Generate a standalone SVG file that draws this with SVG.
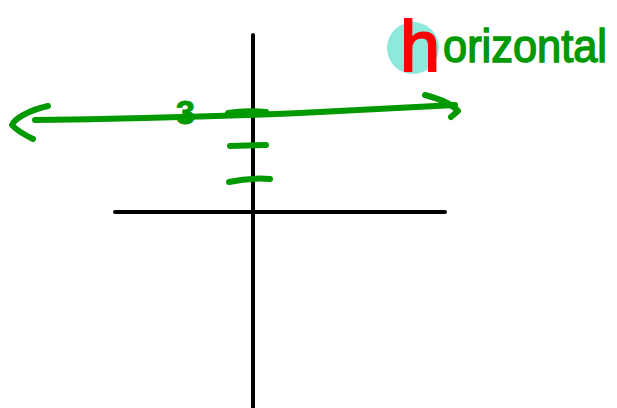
<svg xmlns="http://www.w3.org/2000/svg" width="617" height="408" viewBox="0 0 617 408">
<style>
.ax{stroke:#000;stroke-width:4;stroke-linecap:round;fill:none}
.g{stroke:#009900;stroke-width:6;stroke-linecap:round;stroke-linejoin:round;fill:none}
.gt{fill:#009900;font-family:"Liberation Sans",sans-serif}
</style>
<rect width="617" height="408" fill="#fff"/>
<g id="axes">
<path class="ax" d="M253,35 L253,408"/>
<path class="ax" d="M115,212 L445,212"/>
</g>
<g id="connectors">
<path class="g" d="M35,120 C120,119 250,115 300,113 C360,110 410,107 455,105"/>
<path class="g" d="M48,106 C30,110 15,118 12,125 C16,130 25,135 33,139"/>
<path class="g" d="M425,95 C440,99 452,104 458,111 L451,117"/>
<path class="g" d="M228,113 C240,111 255,111 266,112"/>
<path class="g" d="M230,146 L266,145"/>
<path class="g" d="M229,182 C243,179 258,178 270,179"/>
</g>
<g id="label3">
<text class="gt" x="176" y="124" font-size="34" font-weight="bold" stroke="#009900" stroke-width="1">3</text>
</g>
<g id="horizontal">
<circle cx="413" cy="48" r="26" fill="#8ee8dc"/>
<text x="400" y="71" font-family="'Liberation Sans',sans-serif" font-size="72" fill="#ff0000" stroke="#ff0000" stroke-width="2">h</text>
<text class="gt" x="443" y="62" font-size="46" textLength="164" lengthAdjust="spacingAndGlyphs" stroke="#009900" stroke-width="1.5">orizontal</text>
</g>
</svg>
